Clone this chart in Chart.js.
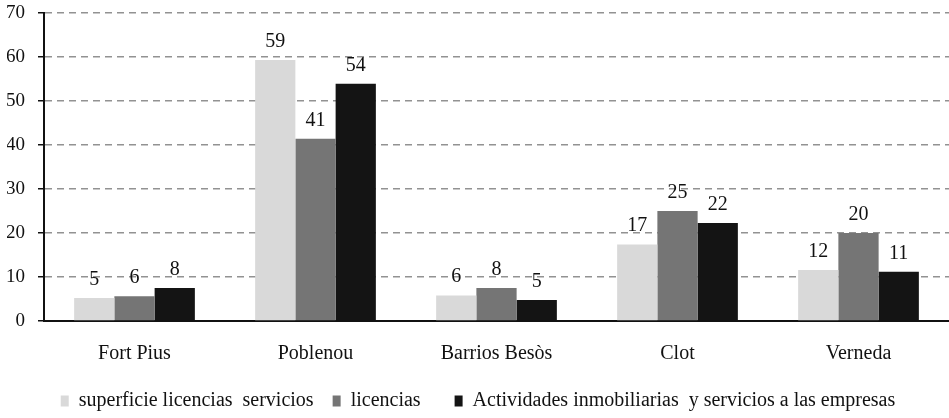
<!DOCTYPE html>
<html>
<head>
<meta charset="utf-8">
<script src="https://cdn.jsdelivr.net/npm/chart.js@4"></script>
<style>
  html, body { margin: 0; padding: 0; background: #fff; }
  #wrap { width: 949px; height: 418px; }
</style>
</head>
<body>
<div id="wrap"><canvas id="barChart"></canvas></div>
<script>
const barrios = ["Fort Pius", "Poblenou", "Barrios Besòs", "Clot", "Verneda"];
const superficie = [5.2, 59.3, 5.8, 17.4, 11.6];
const licencias = [5.6, 41.4, 7.5, 25.0, 20.0];
const actividades = [7.5, 53.9, 4.8, 22.3, 11.2];
const yTicks = [0, 10, 20, 30, 40, 50, 60, 70];

const serif = "'Liberation Serif', 'Times New Roman', serif";

// draws the rounded value above each bar
const valueLabels = {
  id: "valueLabels",
  afterDatasetsDraw(chart) {
    const c = chart.ctx;
    c.save();
    c.font = "20px " + serif;
    c.fillStyle = "#111";
    c.textAlign = "center";
    c.textBaseline = "alphabetic";
    chart.data.datasets.forEach((ds, i) => {
      chart.getDatasetMeta(i).data.forEach((bar, j) => {
        c.fillText(Math.round(ds.data[j]), bar.x, bar.y - 13);
      });
    });
    c.restore();
  }
};

const ctx = document.getElementById("barChart");
new Chart(ctx, {
  type: "bar",
  data: {
    labels: barrios,
    datasets: [
      { label: "superficie licencias  servicios", data: superficie, backgroundColor: "#d9d9d9" },
      { label: "licencias   ", data: licencias, backgroundColor: "#757575" },
      { label: "Actividades inmobiliarias  y servicios a las empresas", data: actividades, backgroundColor: "#141414" }
    ]
  },
  options: {
    responsive: true,
    maintainAspectRatio: false,
    animation: false,
    datasets: { bar: { categoryPercentage: 0.667, barPercentage: 1 } },
    layout: { padding: { top: 13, right: 0, left: 7, bottom: -3 } },
    plugins: {
      tooltip: { enabled: false },
      legend: {
        position: "bottom",
        labels: {
          boxWidth: 8,
          boxHeight: 11,
          padding: 19,
          color: "#111",
          font: { family: serif, size: 20 }
        }
      }
    },
    scales: {
      x: {
        afterFit: axis => { axis.height = 51; },
        grid: { display: false, drawTicks: false },
        border: { color: "#111", width: 2 },
        ticks: { color: "#111", font: { family: serif, size: 20 }, padding: 21 }
      },
      y: {
        min: 0,
        max: 70,
        afterFit: axis => {
          axis.width = 37;
          axis.paddingTop = 0;
          axis.paddingBottom = 0;
        },
        afterBuildTicks: axis => { axis.ticks = yTicks.map(v => ({ value: v })); },
        grid: {
          color: c => c.tick && c.tick.value === 0 ? "rgba(0,0,0,0)" : "#929292",
          lineWidth: 1.5,
          tickLength: 6,
          tickColor: "#111",
          tickWidth: 1.5,
          tickBorderDash: []
        },
        border: { color: "#111", width: 2, dash: [7, 5] },
        ticks: { color: "#111", font: { family: serif, size: 19 }, padding: 13 }
      }
    }
  },
  plugins: [valueLabels]
});
</script>
</body>
</html>
